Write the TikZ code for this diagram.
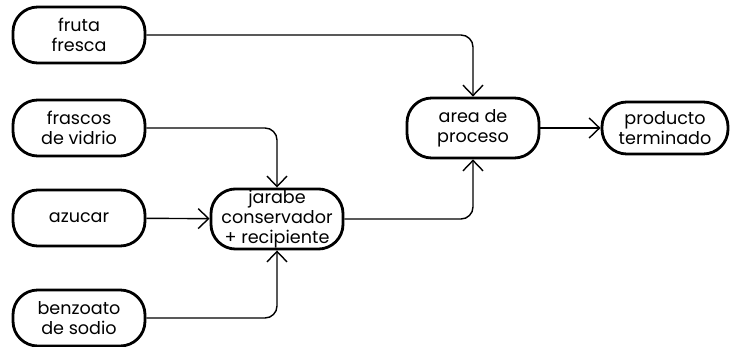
\documentclass[tikz,border=0pt]{standalone}
\usepackage{fontspec}
\setmainfont{Poppins}
\usetikzlibrary{arrows.meta}

\begin{document}
\begin{tikzpicture}[x=0.025cm, y=-0.025cm,
                    >={Straight Barb[length=2.6mm,width=5mm]}]
    \useasboundingbox (0,0) rectangle (732,347);
    \tikzstyle{BoxStyle}=[shape           = rectangle,
                          rounded corners = 0.62cm,
                          line width      = 2pt,
                          minimum width   = 3.3cm,
                          minimum height  = 1.4cm,
                          inner sep       = 1pt,
                          align           = center,
                          font            = \fontsize{12.5}{14}\selectfont,
                          draw]
    \tikzstyle{LinkStyle}=[->,
                           line width      = 1pt,
                           rounded corners = 0.3cm]
    % entradas
    \node[BoxStyle] (fresca)   at (79,35)  {fruta\\fresca};
    \node[BoxStyle] (frascos)  at (79,128) {frascos\\de vidrio};
    \node[BoxStyle] (azucar)   at (79,218) {azucar};
    \node[BoxStyle] (benzoato) at (79,318) {benzoato\\de sodio};
    % etapas
    \node[BoxStyle, minimum height = 1.5cm] (jarabe)   at (277,219)
        {jarabe\\conservador\\+ recipiente};
    \node[BoxStyle, minimum height = 1.5cm] (proceso)  at (473,128)
        {area de\\proceso};
    \node[BoxStyle, minimum width = 3.15cm, minimum height = 1.3cm] (producto) at (665,128)
        {producto\\terminado};
    % conexiones
    \draw[LinkStyle] (fresca)   -| (proceso);
    \draw[LinkStyle] (frascos)  -| (jarabe);
    \draw[LinkStyle] (azucar)   -- (jarabe);
    \draw[LinkStyle] (benzoato) -| (jarabe);
    \draw[LinkStyle] (jarabe)   -| (proceso);
    \draw[LinkStyle] (proceso)  -- (producto);
\end{tikzpicture}
\end{document}
